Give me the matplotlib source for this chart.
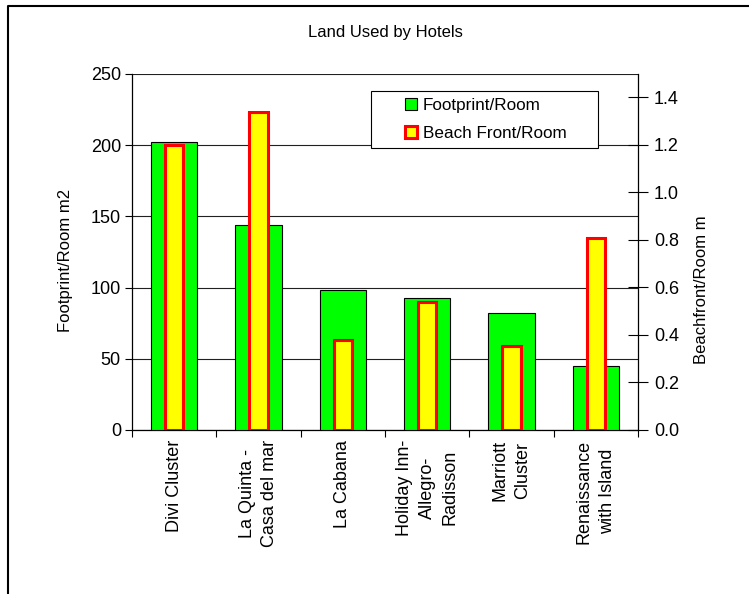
import matplotlib
matplotlib.use("Agg")
import matplotlib.pyplot as plt
from matplotlib.lines import Line2D
from matplotlib.patches import Patch, Rectangle
import numpy as np

plt.rcParams['font.family'] = ['Liberation Sans', 'DejaVu Sans']

categories = ["Divi Cluster", "La Quinta -\nCasa del mar", "La Cabana",
              "Holiday Inn-\nAllegro-\nRadisson", "Marriott\nCluster",
              "Renaissance\nwith Island"]
footprint = [202, 144, 98, 92.5, 82.5, 45]
beachfront = [1.2, 1.34, 0.38, 0.54, 0.355, 0.81]
left_ticks = [0, 50, 100, 150, 200, 250]
right_ticks = [0.0, 0.2, 0.4, 0.6, 0.8, 1.0, 1.2, 1.4]

W, H = 749, 594
fig = plt.figure(figsize=(W / 100, H / 100), dpi=100)
L, R, T, B = 132, 638, 74, 430
ax1 = fig.add_axes([L / W, 1 - B / H, (R - L) / W, (B - T) / H])
ax2 = ax1.twinx()

x = np.arange(len(categories))
ax1.bar(x, footprint, width=0.55, color='#00ff00', edgecolor='black', linewidth=0.8, zorder=3)
ax2.bar(x, beachfront, width=0.22, color='#ffff00', edgecolor='#ff0000', linewidth=2.2, zorder=3)

ax1.set_xlim(-0.5, len(categories) - 0.5)
ax1.set_ylim(0, 250)
ax2.set_ylim(0, 1.4989)
ax1.set_yticks(left_ticks)
ax1.set_yticklabels([str(v) for v in left_ticks], fontsize=13)
ax2.set_yticks(right_ticks)
ax2.set_yticklabels([f"{v:.1f}" for v in right_ticks], fontsize=13)

ax1.grid(axis='y', color='#202020', linewidth=0.8, zorder=0)
ax1.set_axisbelow(True)

for a in (ax1, ax2):
    a.spines['top'].set_visible(False)
ax1.spines['right'].set_visible(False)
ax2.spines['left'].set_visible(False)
ax2.spines['bottom'].set_visible(False)
ax2.spines['right'].set_linewidth(0.9)
ax1.spines['left'].set_linewidth(0.9)
ax1.spines['bottom'].set_linewidth(0.9)

ax1.tick_params(axis='y', direction='out', length=5, width=0.8, pad=3)
ax2.tick_params(axis='y', direction='inout', length=15, width=0.8, pad=4)

ax1.set_xticks(np.arange(-0.5, len(categories), 1.0), minor=True)
ax1.set_xticks(x)
ax1.set_xticklabels(categories, rotation=90, fontsize=13, va='top', ha='center',
                    multialignment='center', linespacing=1.45)
ax1.tick_params(axis='x', which='major', length=0, pad=7)
ax1.tick_params(axis='x', which='minor', direction='out', length=5, width=0.8)

ax1.set_ylabel("Footprint/Room m2", fontsize=12)
ax1.yaxis.set_label_coords((73 - L) / (R - L), (B - 260) / (B - T))
ax2.set_ylabel("Beachfront/Room m", fontsize=12)
ax2.yaxis.set_label_coords((694 - L) / (R - L), (B - 290) / (B - T))

fig.text(385 / W, 1 - 33 / H, "Land Used by Hotels", ha='center', va='center', fontsize=12)

# legend frame
frame = Rectangle(((371 - L) / (R - L), (B - 148) / (B - T)),
                  (598 - 371) / (R - L), (148 - 91) / (B - T),
                  transform=ax2.transAxes, facecolor='white', edgecolor='black',
                  linewidth=0.8, zorder=9, clip_on=False)
ax2.add_patch(frame)
handles = [Patch(facecolor='#00ff00', edgecolor='black', linewidth=0.8, label='Footprint/Room'),
           Patch(facecolor='#ffff00', edgecolor='#ff0000', linewidth=2.2, label='Beach Front/Room')]
leg = ax2.legend(handles=handles, loc='upper left',
                 bbox_to_anchor=((405 - L) / (R - L), (B - 98) / (B - T)),
                 fontsize=12.3, frameon=False,
                 handlelength=0.7, handleheight=0.7,
                 borderpad=0, labelspacing=0.75, handletextpad=0.35,
                 borderaxespad=0)
leg.set_zorder(10)

fig.add_artist(Line2D([8 / W, 8 / W, 1], [0, 1 - 6 / H, 1 - 6 / H],
                      transform=fig.transFigure, color='black', linewidth=1.5))

fig.savefig("out.png", dpi=100)
